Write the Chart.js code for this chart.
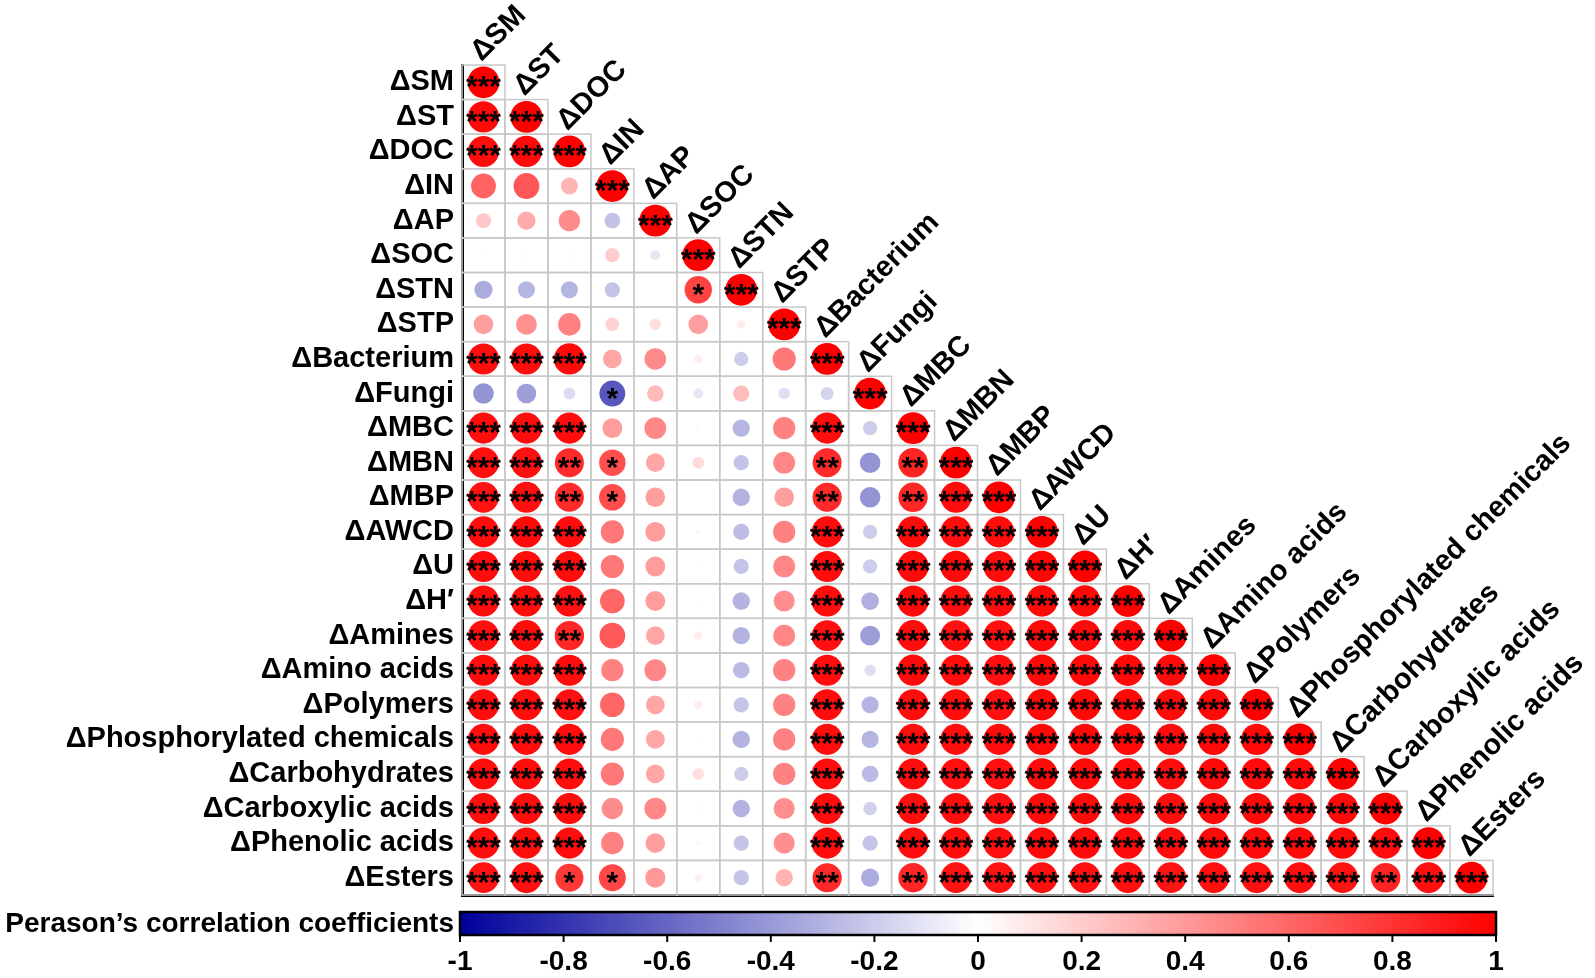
<!DOCTYPE html>
<html>
<head>
<meta charset="utf-8">
<script src="https://cdn.jsdelivr.net/npm/chart.js@4.4.1/dist/chart.umd.min.js"></script>
<style>
  html, body { margin: 0; padding: 0; background: #fff; }
  #wrap { width: 1595px; height: 978px; }
</style>
</head>
<body>
<div id="wrap"><canvas id="corr"></canvas></div>
<script>
// variables, same order for rows and columns
const varLabels = ["ΔSM", "ΔST", "ΔDOC", "ΔIN", "ΔAP", "ΔSOC", "ΔSTN", "ΔSTP", "ΔBacterium", "ΔFungi",
    "ΔMBC", "ΔMBN", "ΔMBP", "ΔAWCD", "ΔU", "ΔH′", "ΔAmines", "ΔAmino acids", "ΔPolymers",
    "ΔPhosphorylated chemicals", "ΔCarbohydrates", "ΔCarboxylic acids", "ΔPhenolic acids", "ΔEsters"];

// lower triangle of Pearson r, row i has i+1 values
const corrRows = [
    [1],
    [0.96, 1],
    [0.95, 0.96, 1],
    [0.61, 0.66, 0.29, 1],
    [0.22, 0.33, 0.45, -0.24, 1],
    [0.01, 0.02, 0.02, 0.2, -0.1, 1],
    [-0.33, -0.29, -0.29, -0.23, 0, 0.74, 1],
    [0.38, 0.43, 0.5, 0.18, 0.13, 0.38, 0.07, 1],
    [0.95, 0.95, 0.96, 0.35, 0.46, 0.07, -0.2, 0.53, 1],
    [-0.42, -0.38, -0.14, -0.66, 0.27, -0.1, 0.26, -0.13, -0.17, 1],
    [0.95, 0.95, 0.95, 0.39, 0.47, 0.02, -0.29, 0.49, 0.95, -0.2, 1],
    [0.94, 0.94, 0.83, 0.69, 0.35, 0.14, -0.23, 0.47, 0.83, -0.42, 0.86, 1],
    [0.93, 0.94, 0.83, 0.7, 0.38, 0, -0.3, 0.38, 0.84, -0.42, 0.85, 0.95, 1],
    [0.95, 0.96, 0.95, 0.53, 0.39, 0.03, -0.26, 0.49, 0.95, -0.2, 0.96, 0.95, 0.95, 1],
    [0.95, 0.95, 0.95, 0.53, 0.39, 0.02, -0.23, 0.47, 0.95, -0.2, 0.96, 0.96, 0.95, 0.98, 1],
    [0.95, 0.95, 0.94, 0.6, 0.39, 0.01, -0.3, 0.44, 0.95, -0.31, 0.96, 0.95, 0.95, 0.97, 0.97, 1],
    [0.94, 0.95, 0.85, 0.65, 0.35, 0.07, -0.3, 0.47, 0.94, -0.39, 0.95, 0.94, 0.94, 0.96, 0.96, 0.96, 1],
    [0.95, 0.95, 0.95, 0.49, 0.47, 0, -0.27, 0.49, 0.95, -0.13, 0.96, 0.95, 0.94, 0.97, 0.97, 0.97, 0.96, 1],
    [0.95, 0.95, 0.94, 0.6, 0.35, 0.07, -0.23, 0.49, 0.95, -0.29, 0.95, 0.95, 0.94, 0.97, 0.97, 0.97, 0.96, 0.97, 1],
    [0.95, 0.95, 0.95, 0.53, 0.35, 0.01, -0.3, 0.49, 0.95, -0.29, 0.95, 0.95, 0.95, 0.97, 0.97, 0.97, 0.96, 0.97, 0.97, 1],
    [0.95, 0.95, 0.95, 0.53, 0.35, 0.13, -0.2, 0.49, 0.95, -0.27, 0.95, 0.94, 0.94, 0.96, 0.96, 0.96, 0.95, 0.96, 0.96, 0.96, 1],
    [0.95, 0.95, 0.95, 0.45, 0.47, 0.02, -0.3, 0.44, 0.95, -0.18, 0.95, 0.95, 0.94, 0.96, 0.96, 0.96, 0.95, 0.96, 0.96, 0.96, 0.96, 1],
    [0.95, 0.95, 0.95, 0.5, 0.38, 0.03, -0.23, 0.44, 0.95, -0.23, 0.95, 0.95, 0.94, 0.96, 0.96, 0.96, 0.95, 0.96, 0.96, 0.96, 0.96, 0.95, 1],
    [0.93, 0.94, 0.78, 0.72, 0.4, 0.06, -0.23, 0.3, 0.84, -0.33, 0.85, 0.93, 0.93, 0.94, 0.94, 0.94, 0.93, 0.94, 0.94, 0.94, 0.93, 0.86, 0.94, 1]
];

// number of stars (0 = n.s., 1 = *, 2 = **, 3 = ***)
const sigRows = [
    [3],
    [3, 3],
    [3, 3, 3],
    [0, 0, 0, 3],
    [0, 0, 0, 0, 3],
    [0, 0, 0, 0, 0, 3],
    [0, 0, 0, 0, 0, 1, 3],
    [0, 0, 0, 0, 0, 0, 0, 3],
    [3, 3, 3, 0, 0, 0, 0, 0, 3],
    [0, 0, 0, 1, 0, 0, 0, 0, 0, 3],
    [3, 3, 3, 0, 0, 0, 0, 0, 3, 0, 3],
    [3, 3, 2, 1, 0, 0, 0, 0, 2, 0, 2, 3],
    [3, 3, 2, 1, 0, 0, 0, 0, 2, 0, 2, 3, 3],
    [3, 3, 3, 0, 0, 0, 0, 0, 3, 0, 3, 3, 3, 3],
    [3, 3, 3, 0, 0, 0, 0, 0, 3, 0, 3, 3, 3, 3, 3],
    [3, 3, 3, 0, 0, 0, 0, 0, 3, 0, 3, 3, 3, 3, 3, 3],
    [3, 3, 2, 0, 0, 0, 0, 0, 3, 0, 3, 3, 3, 3, 3, 3, 3],
    [3, 3, 3, 0, 0, 0, 0, 0, 3, 0, 3, 3, 3, 3, 3, 3, 3, 3],
    [3, 3, 3, 0, 0, 0, 0, 0, 3, 0, 3, 3, 3, 3, 3, 3, 3, 3, 3],
    [3, 3, 3, 0, 0, 0, 0, 0, 3, 0, 3, 3, 3, 3, 3, 3, 3, 3, 3, 3],
    [3, 3, 3, 0, 0, 0, 0, 0, 3, 0, 3, 3, 3, 3, 3, 3, 3, 3, 3, 3, 3],
    [3, 3, 3, 0, 0, 0, 0, 0, 3, 0, 3, 3, 3, 3, 3, 3, 3, 3, 3, 3, 3, 3],
    [3, 3, 3, 0, 0, 0, 0, 0, 3, 0, 3, 3, 3, 3, 3, 3, 3, 3, 3, 3, 3, 3, 3],
    [3, 3, 1, 1, 0, 0, 0, 0, 2, 0, 2, 3, 3, 3, 3, 3, 3, 3, 3, 3, 3, 2, 3, 3]
];

const colorbarTicks = [-1, -0.8, -0.6, -0.4, -0.2, 0, 0.2, 0.4, 0.6, 0.8, 1];
const colorbarTitle = "Perason’s correlation coefficients";

const FONT = "'Liberation Sans', Arial, sans-serif";

// white -> red for r > 0, white -> navy for r < 0
function corrColor(v) {
    const t = Math.min(1, Math.abs(v));
    if (v >= 0) {
        const g = Math.round(255 * (1 - t));
        return `rgb(255,${g},${g})`;
    }
    const c = Math.round(255 * (1 - t));
    return `rgb(${c},${c},${Math.round(255 - 100 * t)})`;
}

const points = [];
corrRows.forEach((row, i) => {
    row.forEach((v, j) => points.push({ x: j, y: i, v, s: sigRows[i][j] }));
});

const n = varLabels.length;

// light grey box around every lower-triangle cell
const cellGrid = {
    id: "cellGrid",
    beforeDatasetsDraw(chart) {
        const { ctx, scales: { x, y } } = chart;
        ctx.save();
        ctx.strokeStyle = "#c8c8c8";
        ctx.lineWidth = 1.5;
        points.forEach(p => {
            const x0 = x.getPixelForValue(p.x - 0.5), x1 = x.getPixelForValue(p.x + 0.5);
            const y0 = y.getPixelForValue(p.y - 0.5), y1 = y.getPixelForValue(p.y + 0.5);
            ctx.strokeRect(x0, y0, x1 - x0, y1 - y0);
        });
        ctx.restore();
    }
};

// stars, slanted column labels, colour bar
const decorations = {
    id: "decorations",
    afterDatasetsDraw(chart) {
        const { ctx, scales: { x, y } } = chart;
        ctx.save();
        ctx.fillStyle = "#000";
        ctx.font = `bold 30px ${FONT}`;
        ctx.textAlign = "center";
        ctx.textBaseline = "alphabetic";
        points.forEach(p => {
            if (!p.s) return;
            ctx.fillText("*".repeat(p.s), x.getPixelForValue(p.x), y.getPixelForValue(p.y) + 14);
        });
        ctx.restore();
    },
    afterDraw(chart) {
        const { ctx, chartArea: area, scales: { x, y } } = chart;
        ctx.save();
        ctx.fillStyle = "#000";
        ctx.font = `bold 29px ${FONT}`;
        ctx.textAlign = "left";
        ctx.textBaseline = "alphabetic";
        varLabels.forEach((lab, j) => {
            ctx.save();
            ctx.translate(x.getPixelForValue(j) - 2, y.getPixelForValue(j - 0.5) - 3);
            ctx.rotate(-Math.PI / 4);
            ctx.fillText(lab, 0, 0);
            ctx.restore();
        });

        // colour bar
        const barL = area.left - 2, barR = area.right + 3;
        const barT = area.bottom + 17, barH = 23;
        const toX = v => barL + (v + 1) / 2 * (barR - barL);
        const grad = ctx.createLinearGradient(barL, 0, barR, 0);
        colorbarTicks.forEach(v => grad.addColorStop((v + 1) / 2, corrColor(v)));
        ctx.fillStyle = grad;
        ctx.fillRect(barL, barT, barR - barL, barH);
        ctx.strokeStyle = "#000";
        ctx.lineWidth = 2.5;
        ctx.strokeRect(barL, barT, barR - barL, barH);

        ctx.lineWidth = 2;
        ctx.fillStyle = "#000";
        ctx.font = `bold 28px ${FONT}`;
        ctx.textAlign = "center";
        colorbarTicks.forEach(v => {
            const tx = toX(v);
            ctx.beginPath();
            ctx.moveTo(tx, barT + barH);
            ctx.lineTo(tx, barT + barH + 7);
            ctx.stroke();
            ctx.fillText(String(v), tx, barT + barH + 35);
        });

        ctx.textAlign = "right";
        ctx.textBaseline = "middle";
        ctx.font = `bold 28px ${FONT}`;
        ctx.fillText(colorbarTitle, barL - 6, barT + barH / 2 + 1);
        ctx.restore();
    }
};

new Chart(document.getElementById("corr"), {
    type: "bubble",
    data: {
        datasets: [{
            data: points,
            backgroundColor: c => corrColor(c.raw.v),
            borderWidth: 0,
            radius: c => {
                const a = c.chart.chartArea;
                const cell = a ? (a.right - a.left) / n : 43;
                return cell * 0.37 * Math.sqrt(Math.abs(c.raw.v));
            }
        }]
    },
    options: {
        responsive: true,
        maintainAspectRatio: false,
        animation: false,
        events: [],
        layout: { padding: { left: 0, top: 65, right: 102, bottom: 73 } },
        plugins: { legend: { display: false }, tooltip: { enabled: false } },
        scales: {
            x: {
                type: "linear",
                min: -0.5,
                max: n - 0.5,
                ticks: { display: false },
                grid: { display: false, drawTicks: false },
                border: { display: true, width: 3, color: "#000" },
                afterFit: s => { s.height = 10; }
            },
            y: {
                type: "linear",
                reverse: true,
                min: -0.5,
                max: n - 0.5,
                afterBuildTicks: s => { s.ticks = varLabels.map((_, i) => ({ value: i })); },
                ticks: {
                    autoSkip: false,
                    padding: 8,
                    color: "#000",
                    font: { family: FONT, size: 29, weight: "bold" },
                    callback: v => varLabels[v]
                },
                grid: { display: false, drawTicks: false },
                border: { display: true, width: 3, color: "#000" },
                afterFit: s => { s.width = 462; }
            }
        }
    },
    plugins: [cellGrid, decorations]
});
</script>
</body>
</html>
